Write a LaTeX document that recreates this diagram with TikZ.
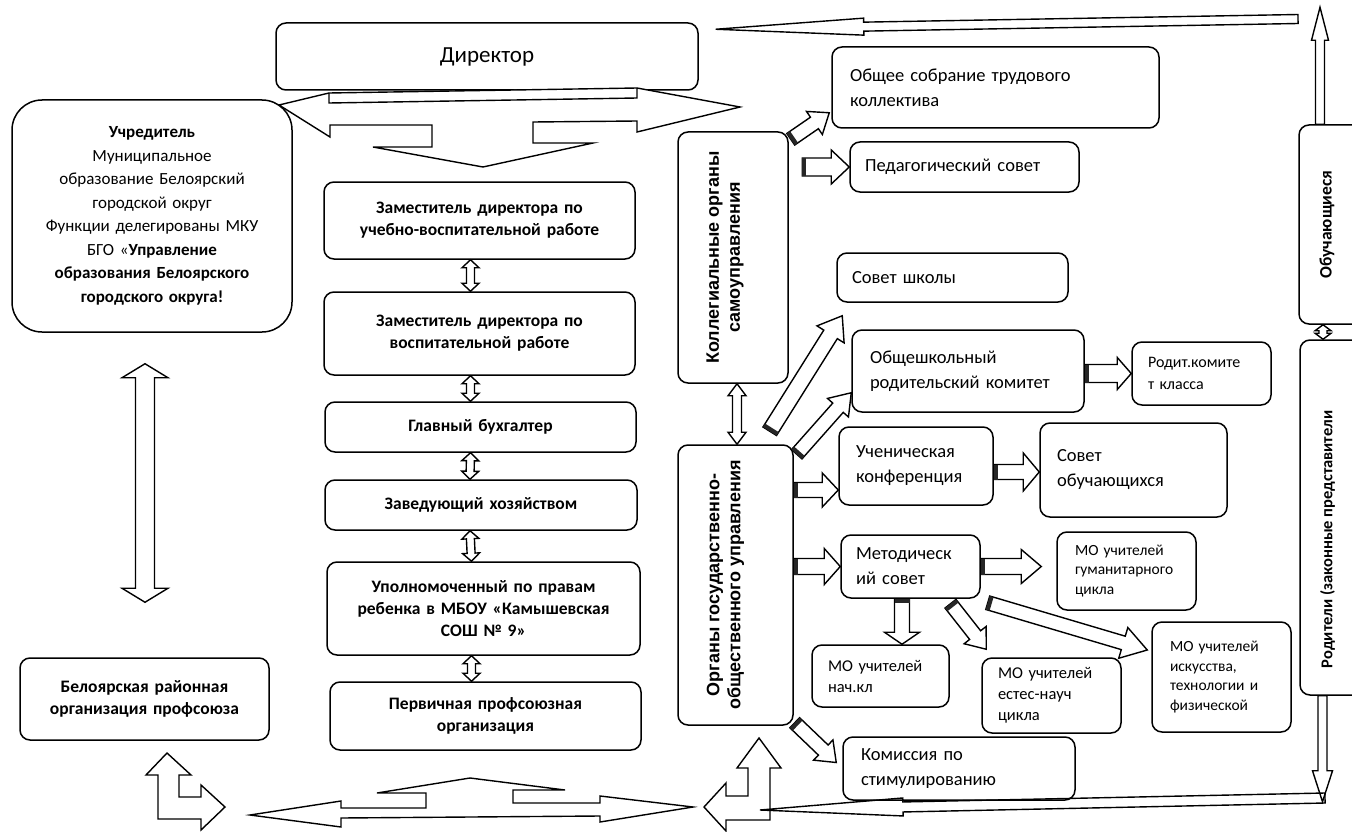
\documentclass[tikz,border=0pt]{standalone}
\usepackage{fontspec}
\setmainfont{Carlito}
\newfontfamily\arialf{Liberation Sans}
\usetikzlibrary{calc}
\tikzset{
  box/.style={draw, line width=1.5pt, rounded corners=10pt, inner sep=0pt, align=center},
  arr/.style={draw, line width=1.4pt, fill=white, line join=miter},
  arrn/.style={draw, line width=1.4pt, line join=miter},
  bar/.style={line width=4pt, draw=black!85},
  fL/.style={font=\fontsize{17.5}{22}\selectfont\bfseries},
  fR/.style={font=\fontsize{18.5}{25}\selectfont, align=left},
  fS/.style={font=\fontsize{16}{22}\selectfont, align=left},
  fM/.style={font=\fontsize{16.5}{21}\selectfont, align=left},
  fX/.style={font=\fontsize{15.5}{19.5}\selectfont, align=left},
  rt/.style={rotate=90, align=center, inner sep=0pt}
}
\newcommand\bx[8]{%
  \pgfmathsetmacro\bxw{#4-#2}%
  \pgfmathsetmacro\bxh{#5-#3}%
  \pgfmathsetmacro\bxt{#4-#2-2*#6}%
  \node[box, minimum width=\bxw pt, minimum height=\bxh pt, text width=\bxt pt, #7] (#1) at ({(#2+#4)/2},{(#3+#5)/2}) {#8};}
\newcommand\blk[6][arr]{%
  \coordinate (bA) at #2; \coordinate (bB) at #3;
  \coordinate (bH) at ($(bB)!#6pt!(bA)$);
  \draw[#1] ($(bA)!#4pt!90:(bB)$) -- ($(bH)!#4pt!90:(bB)$) -- ($(bH)!#5pt!90:(bB)$) -- (bB) -- ($(bH)!#5pt!-90:(bB)$) -- ($(bH)!#4pt!-90:(bB)$) -- ($(bA)!#4pt!-90:(bB)$) -- cycle;}
\newcommand\bbar[1]{%
  \coordinate (bC) at ($(bA)!2pt!(bB)$);
  \draw[bar] ($(bC)!#1pt!90:(bB)$) -- ($(bC)!#1pt!-90:(bB)$);}
\newcommand\dbl[5]{%
  \coordinate (dA) at #1; \coordinate (dB) at #2;
  \coordinate (dHa) at ($(dA)!#5pt!(dB)$); \coordinate (dHb) at ($(dB)!#5pt!(dA)$);
  \draw[arr] (dA) -- ($(dHa)!#4pt!90:(dB)$) -- ($(dHa)!#3pt!90:(dB)$) -- ($(dHb)!#3pt!90:(dB)$) -- ($(dHb)!#4pt!90:(dB)$) -- (dB) -- ($(dHb)!#4pt!-90:(dB)$) -- ($(dHb)!#3pt!-90:(dB)$) -- ($(dHa)!#3pt!-90:(dB)$) -- ($(dHa)!#4pt!-90:(dB)$) -- cycle;}
\begin{document}
\begin{tikzpicture}[x=1pt,y=-1pt]
\useasboundingbox (0,0) rectangle (1352,832);
\fill[white] (0,0) rectangle (1352,832);

% ---------- left part ----------
\bx{dir}{276}{23}{698}{90}{10}{font=\fontsize{23}{27}\selectfont}{Директор}
\bx{uch}{12}{100}{292}{332}{8}{rounded corners=30pt, font=\fontsize{17}{23.5}\selectfont}{%
  {\bfseries Учредитель}\\ Муниципальное\\ образование Белоярский\\ городской округ\\ Функции делегированы МКУ\\ БГО «{\bfseries Управление}\\ {\bfseries образования Белоярского}\\ {\bfseries городского округа!}}
\bx{z1}{324}{182}{635}{259}{8}{fL}{Заместитель директора по\\учебно-воспитательной работе}
\bx{z2}{324}{292}{635}{375}{8}{fL}{Заместитель директора по\\воспитательной работе}
\bx{gb}{325}{402}{636}{452}{8}{fL}{Главный бухгалтер}
\bx{zh}{325}{480}{637}{530}{8}{fL}{Заведующий хозяйством}
\bx{up}{327}{562}{640}{655}{8}{fL}{Уполномоченный по правам\\ребенка в МБОУ «Камышевская\\СОШ № 9»}
\bx{pp}{330}{682}{641}{750}{8}{fL}{Первичная профсоюзная\\организация}
\bx{bel}{20}{658}{269}{740}{6}{fL}{Белоярская районная\\организация профсоюза}

\dbl{($(z1.south)+(-9,0)$)}{($(z2.north)+(-9,0)$)}{4}{8.5}{8}
\dbl{($(z2.south)+(-9,0)$)}{($(gb.north)+(-10,0)$)}{4}{8.5}{8}
\dbl{($(gb.south)+(-10,0)$)}{($(zh.north)+(-11,0)$)}{4}{8.5}{8}
\dbl{($(zh.south)+(-11,0)$)}{($(up.north)+(-12,0)$)}{4}{8.5}{8}
\dbl{($(up.south)+(-12,0)$)}{($(pp.north)+(-14,0)$)}{4}{8.5}{8}
\dbl{($(uch.south)+(-7,31)$)}{($(bel.north)+(0.5,-55)$)}{9.5}{23}{14}

% top three-way arrow from the director
\draw[arr] (279,105) -- (329,93) -- (637,88) -- (740,107) -- (637,132) -- (637,121) -- (533,122) -- (533,143) -- (593,143) -- (483,167) -- (373,147) -- (432,147) -- (432,125) -- (330,125) -- (330,137) -- cycle;
\draw[line width=1.4pt] (329,93) -- (329,103) -- (637,98) -- (637,88);

% bottom arrows
\draw[arr] (167,753) -- (191,775) -- (179,775) -- (179,797) -- (201,797) -- (201,785) -- (225,807) -- (201,830) -- (201,819) -- (158,819) -- (158,775) -- (146,775) -- cycle;
\draw[arr] (250,815) -- (341,801) -- (341,808) -- (426,808) -- (426,793) -- (377,793) -- (470,778) -- (565,790) -- (513,790) -- (513,803) -- (600,803) -- (600,796) -- (693,807) -- (600,822) -- (600,816) -- (341,818) -- (341,827) -- cycle;
\draw[arr] (704,807) -- (726,783) -- (726,796) -- (748,796) -- (748,768) -- (737,768) -- (759,738) -- (781,768) -- (770,768) -- (770,820) -- (726,820) -- (726,831) -- cycle;

% ---------- middle column ----------
\bx{kol}{678}{132}{788}{383}{0}{}{}
\node[rt, font=\arialf\fontsize{18}{21}\selectfont\bfseries] (kolt) at ($(kol.center)+(-8,0)$) {Коллегиальные органы\\самоуправления};
\bx{org}{678}{445}{793}{725}{0}{}{}
\node[rt, font=\arialf\fontsize{18}{21}\selectfont\bfseries] (orgt) at ($(org.center)+(-10,0)$) {Органы государственно-\\общественного управления};
\coordinate (ka) at ($(kol.south)+(4,0)$);
\dbl{(ka)}{(ka |- org.north)}{4.5}{9}{12}

% ---------- right column ----------
\bx{obsh}{832}{47}{1159}{128}{18}{fR}{Общее собрание трудового\\коллектива}
\bx{ped}{850}{142}{1079}{192}{15}{fR}{Педагогический совет}
\bx{sov}{837}{253}{1068}{302}{15}{fR}{Совет школы}
\bx{rk}{852}{330}{1084}{412}{18}{fR}{Общешкольный\\родительский комитет}
\bx{rod}{1132}{342}{1271}{405}{16}{fS}{Родит.комите\\т класса}
\bx{uk}{839}{427}{993}{505}{17}{fR}{Ученическая\\конференция}
\bx{so}{1040}{423}{1227}{517}{17}{fR}{Совет\\обучающихся}
\bx{met}{841}{535}{980}{598}{15}{fR}{Методическ\\ий совет}
\bx{mog}{1057}{532}{1196}{610}{18}{fX}{МО учителей\\гуманитарного\\цикла}
\bx{mon}{812}{645}{949}{707}{16}{fM}{МО учителей\\нач.кл}
\bx{moe}{982}{658}{1121}{733}{16}{fM}{МО учителей\\естес-науч\\цикла}
\bx{moi}{1152}{622}{1291}{732}{18}{fX}{МО учителей\\искусства,\\технологии и\\физической}
\bx{kom}{843}{737}{1075}{800}{18}{fR}{Комиссия по\\стимулированию}

% far right
\bx{obu}{1299}{125}{1365}{324}{0}{}{}
\node[rt, font=\fontsize{17.5}{21}\selectfont\bfseries] (obut) at ($(obu.center)+(-5,0)$) {Обучающиеся};
\bx{par}{1300}{340}{1365}{695}{0}{}{}
\node[rt, font=\fontsize{16.5}{21}\selectfont\bfseries] (part) at ($(par.center)+(-5,22)$) {Родители (законные представители};

% arrows of the right part
\blk{($(kol.north east)+(2,8)$)}{($(obsh.south west)+(-2,-16)$)}{7}{14}{18}\bbar{7}
\blk{($(ped.west)+(-47,0)$)}{(ped.west)}{9}{17}{18}\bbar{9}
\blk{($(org.north east)+(-24,-13)$)}{($(sov.south west)+(6,13)$)}{8}{16}{22}\bbar{8}
\blk{($(org.north east)+(3,10)$)}{($(rk.south west)+(0,-20)$)}{7}{14}{20}\bbar{7}
\coordinate (uw) at ($(uk.west)+(0,24)$);
\blk{(org.east |- uw)}{(uw)}{7.5}{17}{16}\bbar{7.5}
\blk{(org.east |- met.west)}{(met.west)}{8}{18}{16}\bbar{8}
\blk{($(org.south east)+(1,-3)$)}{($(kom.west)+(-6,-6)$)}{7}{14}{18}\bbar{7}
\blk{(rk.east |- rod.west)}{(rod.west)}{9}{16}{14}\bbar{9}
\coordinate (ue) at ($(uk.east)+(0,6)$);
\blk{(ue)}{(so.west |- ue)}{7.5}{19}{16}\bbar{7.5}
\blk{(met.east)}{($(mog.west |- met.east)+(-15,0)$)}{8}{17}{20}\bbar{8}
\coordinate (ms) at ($(met.south)+(-8.5,0)$);
\blk{(ms)}{(ms |- mon.north)}{7.5}{17.5}{12}\bbar{7.5}
\blk{($(met.south)+(40,5)$)}{($(moe.north west)+(5,-8)$)}{7}{14}{18}\bbar{7}
\blk{($(met.south east)+(7,4)$)}{($(moi.west)+(-4,-27)$)}{7}{16}{25}\bbar{7}

% right vertical arrows
\coordinate (ua) at ($(obu.north)+(-12,0)$);
\blk{(ua)}{($(ua)+(0,-117)$)}{4.5}{8.5}{33}
\dbl{($(obu.south)+(-9,0)$)}{($(par.north)+(-9.5,0)$)}{4}{8}{6}
\coordinate (pd) at ($(par.south)+(-10,0)$);
\blk{(pd)}{($(pd)+(0,106)$)}{4.5}{10}{31}

% long thin arrows
\coordinate (tr) at (1298,19);
\coordinate (tl) at ($(dir.north east)+(17,7)$);
\blk[arrn]{(tr)}{(tl)}{4.5}{8.5}{148}
\coordinate (brr) at (1325,798);
\coordinate (brl) at (760,810);
\blk[arrn]{(brr)}{(brl)}{5}{9}{143}
\end{tikzpicture}
\end{document}
